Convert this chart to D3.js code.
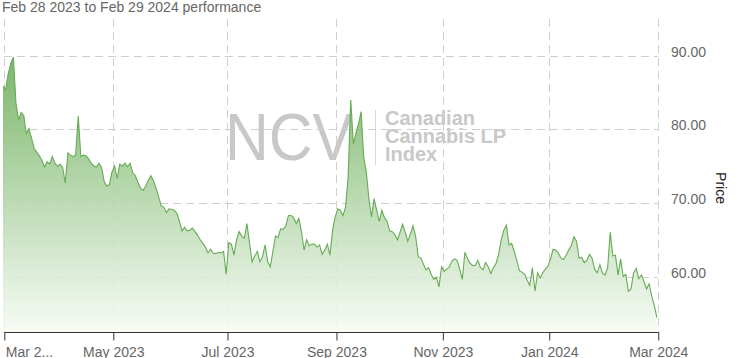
<!DOCTYPE html>
<html><head><meta charset="utf-8">
<script src="https://cdn.jsdelivr.net/npm/d3@7"></script>
<style>
body{margin:0;background:#fff;}
svg{display:block;font-family:"Liberation Sans",Arial,Helvetica,sans-serif;}
</style>
</head><body>
<svg id="chart" width="741" height="358"></svg>
<script>
// ---- data ----
const titleText = "Feb 28 2023 to Feb 29 2024 performance";
const startDate = "2023-02-28";
const endDate = "2024-02-29";
// TSX market holidays within the period (trading-day calendar)
const holidays = ["2023-04-07","2023-05-22","2023-07-03","2023-08-07","2023-09-04",
  "2023-10-09","2023-12-25","2023-12-26","2024-01-01","2024-02-19"];
// daily closing values, one per trading day
const prices = [
85.9,85.4,87.5,89.0,89.8,83.5,81.3,82.3,81.9,79.4,
80.1,78.8,77.4,76.9,76.4,75.8,74.9,75.6,75.3,76.3,
75.4,75.0,75.3,74.8,72.7,76.8,76.5,76.3,76.5,81.8,
76.3,76.5,76.4,76.0,75.4,75.0,74.9,75.4,74.8,72.9,
72.3,72.5,74.2,75.0,73.3,75.3,75.0,75.4,74.9,75.4,
74.1,73.7,72.8,72.0,71.7,72.3,73.1,73.7,73.0,72.0,
70.8,69.6,69.4,68.7,69.2,69.1,69.0,68.6,67.5,66.2,
66.7,66.2,66.3,66.6,66.1,65.6,65.0,64.5,64.0,63.2,
63.7,63.2,63.1,63.3,63.2,63.4,60.3,64.6,64.4,62.9,
65.0,66.1,65.5,65.2,67.2,64.5,62.0,62.8,63.4,62.0,
62.7,64.3,62.0,61.3,63.4,65.5,65.3,66.5,66.4,66.9,
68.3,68.3,68.0,67.2,67.9,66.1,63.6,65.0,64.2,64.4,
64.4,64.0,64.3,63.0,63.6,64.4,62.9,66.3,68.1,69.2,
69.0,68.3,69.4,73.5,84.0,78.0,79.5,80.7,82.4,76.2,
74.2,70.6,68.1,70.6,69.0,67.5,69.0,68.0,67.5,66.2,
66.1,65.7,65.0,66.0,67.1,66.0,64.8,65.8,66.9,65.5,
62.7,62.5,61.7,60.9,61.2,60.3,59.6,59.9,58.6,61.3,
60.7,61.0,61.3,62.1,62.4,62.2,61.0,59.6,63.3,62.4,
61.8,61.5,61.5,62.2,61.2,60.9,61.9,61.3,60.4,61.2,
61.8,63.0,65.0,66.3,67.0,64.3,64.5,63.4,62.2,60.8,
60.6,60.3,59.5,58.8,61.2,58.0,60.5,59.8,60.5,61.0,
61.4,62.4,63.7,63.6,63.2,62.5,62.3,62.9,63.6,64.2,
65.4,64.8,62.5,62.6,61.9,62.2,63.0,62.5,61.0,60.5,
61.6,60.5,60.2,61.2,66.0,62.8,62.9,60.2,62.4,60.0,
60.3,58.0,58.3,60.5,61.1,59.7,60.2,59.3,58.3,59.0,
57.3,56.0,54.4
];
const yTickValues = [60, 70, 80, 90];
const yDomain = [52.5, 95];
const yAxisTitle = "Price";
const watermarkBig = "NCV";
const watermarkLines = ["Canadian", "Cannabis LP", "Index"];

// ---- trading-day calendar ----
const parse = d3.utcParse("%Y-%m-%d");
const fmtISO = d3.utcFormat("%Y-%m-%d");
const holidaySet = new Set(holidays);
const days = [];
for (let d = parse(startDate); d <= parse(endDate); d = d3.utcDay.offset(d, 1)) {
  const wd = d.getUTCDay();
  if (wd === 0 || wd === 6 || holidaySet.has(fmtISO(d))) continue;
  days.push(d);
}
const n = days.length;
const data = prices.map((v, i) => ({i, date: days[i], v}));

// month boundary ticks (between categories), every second month
const fmtMonth = d3.utcFormat("%b %Y");
let allTicks = [];
for (let i = 1; i < n; i++) {
  if (days[i].getUTCMonth() !== days[i-1].getUTCMonth()) allTicks.push({k: i - 0.5, label: fmtMonth(days[i])});
}
allTicks.push({k: n - 0.5, label: fmtMonth(d3.utcMonth.offset(d3.utcMonth.floor(days[n-1]), 1))});
const monthTicks = allTicks.filter((d, i) => i % 2 === 0);
monthTicks[0].label = monthTicks[0].label.slice(0, 5) + "...";

// ---- layout ----
const svg = d3.select("#chart");
const plotTop = 19, plotBottom = 331.7;
const x = d3.scaleLinear().domain([0, n - 1]).range([3.0, 3.0 + 2.595 * (n - 1)]);
const y = d3.scaleLinear().domain(yDomain).range([plotBottom, plotTop]);
const plotLeft = x(monthTicks[0].k), plotRight = x(monthTicks[monthTicks.length-1].k);

const defs = svg.append("defs");
const grad = defs.append("linearGradient").attr("id", "areaGrad")
  .attr("gradientUnits", "userSpaceOnUse")
  .attr("x1", 0).attr("x2", 0).attr("y1", plotTop).attr("y2", plotBottom);
grad.append("stop").attr("offset", 0).attr("stop-color", "#5aa446");
grad.append("stop").attr("offset", 1).attr("stop-color", "#f6fbf4");

// title
svg.append("text").attr("x", 2).attr("y", 12).attr("font-size", 14).attr("fill", "#666").text(titleText);

// watermark
const wm = svg.append("g");
wm.append("text").attr("x", 225).attr("y", 160).attr("font-size", 67).attr("fill", "#c8c8c8")
  .attr("textLength", 128).attr("lengthAdjust", "spacingAndGlyphs").text(watermarkBig);
wm.append("line").attr("x1", 375.5).attr("x2", 375.5).attr("y1", 110).attr("y2", 165)
  .attr("stroke", "#d8d8d8").attr("stroke-width", 1);
wm.selectAll("text.sub").data(watermarkLines).join("text").attr("class", "sub")
  .attr("x", 385).attr("y", (d, i) => 125 + i * 18)
  .attr("font-size", 20).attr("font-weight", "bold").attr("fill", "#c8c8c8").text(d => d);

// grid
const grid = svg.append("g").attr("stroke", "#cfcfcf").attr("stroke-dasharray", "8,5")
  .attr("shape-rendering", "crispEdges");
grid.selectAll("line.h").data(yTickValues).join("line").attr("class", "h")
  .attr("x1", plotLeft).attr("x2", plotRight)
  .attr("y1", d => Math.round(y(d)) + 0.5).attr("y2", d => Math.round(y(d)) + 0.5);
grid.selectAll("line.v").data(monthTicks).join("line").attr("class", "v")
  .attr("x1", d => Math.round(x(d.k)) + 0.5).attr("x2", d => Math.round(x(d.k)) + 0.5)
  .attr("y1", plotTop).attr("y2", plotBottom);

// area + line
const area = d3.area().x(d => x(d.i)).y0(y(yDomain[0])).y1(d => y(d.v));
const line = d3.line().x(d => x(d.i)).y(d => y(d.v));
svg.append("path").datum(data).attr("d", area).attr("fill", "url(#areaGrad)").attr("fill-opacity", 0.9);
svg.append("path").datum(data).attr("d", line).attr("fill", "none")
  .attr("stroke", "#66ab55").attr("stroke-width", 1.1);

// x axis
const xAxis = d3.axisBottom(x).tickValues(monthTicks.map(d => d.k))
  .tickFormat((d, i) => monthTicks[i].label).tickSize(8).tickSizeOuter(0);
const gx = svg.append("g").attr("transform", `translate(0,${Math.round(plotBottom) + 0.5})`).call(xAxis);
gx.select(".domain").attr("stroke", "#333").attr("d", `M${plotLeft},0H${plotRight + 0.5}`);
gx.selectAll(".tick line").attr("stroke", "#333");
gx.selectAll(".tick text").attr("font-size", 14).attr("fill", "#666")
  .attr("font-family", '"Liberation Sans", Arial, sans-serif').attr("dy", null).attr("y", 24);
gx.selectAll(".tick text").filter((d, i) => i === 0).attr("text-anchor", "start").attr("x", 1);

// y labels
svg.append("g").selectAll("text").data(yTickValues).join("text")
  .attr("x", 671).attr("y", d => Math.round(y(d)) + 0.5)
  .attr("font-size", 14).attr("fill", "#666").text(d => d3.format(".2f")(d));

// y axis title
svg.append("text").attr("transform", "translate(716,188) rotate(90)")
  .attr("text-anchor", "middle").attr("font-size", 14).attr("fill", "#222").text(yAxisTitle);
</script>
</body></html>
